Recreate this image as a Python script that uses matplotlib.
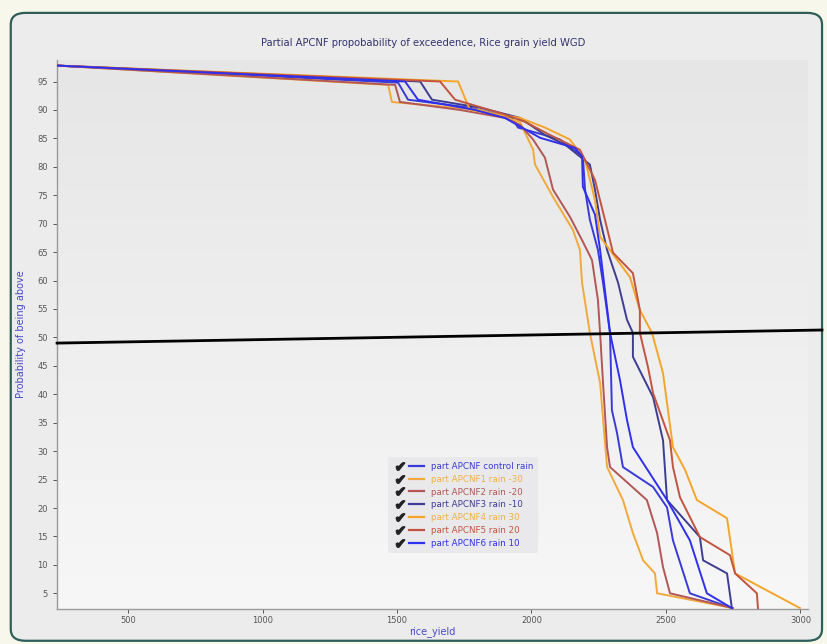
import numpy as np
import matplotlib
matplotlib.use("Agg")
import matplotlib.pyplot as plt
from matplotlib.lines import Line2D
from matplotlib.patches import FancyBboxPatch
from matplotlib.legend_handler import HandlerTuple

# ---------------- data ----------------
title = "Partial APCNF propobability of exceedence, Rice grain yield WGD"
xlabel = "rice_yield"
ylabel = "Probability of being above"

series_names = [
    "part APCNF control rain",
    "part APCNF1 rain -30",
    "part APCNF2 rain -20",
    "part APCNF3 rain -10",
    "part APCNF4 rain 30",
    "part APCNF5 rain 20",
    "part APCNF6 rain 10",
]
series_colors = ["#3a3ad6", "#f2a93b", "#b25656", "#3d3d92", "#f4a52a", "#c2543f", "#2f2fee"]
label_colors = ["#3a3ad6", "#f0b040", "#b25656", "#3d3d92", "#f0b040", "#c2543f", "#2f2fee"]

control_x = [236, 1504, 1541, 1771, 1927, 1950, 2106, 2191, 2199, 2217, 2247, 2266, 2292, 2299, 2318, 2340, 2452, 2504, 2526, 2589, 2745]
control_y = [97.8, 94.8, 91.8, 90.4, 88.6, 86.9, 84.8, 81.8, 76.0, 70.7, 65.4, 59.6, 50.8, 37.2, 33.2, 27.2, 23.7, 20.1, 14.3, 5.0, 2.4]

m30_x = [236, 1467, 1481, 1809, 1957, 2006, 2013, 2080, 2154, 2180, 2188, 2217, 2255, 2281, 2340, 2377, 2415, 2459, 2467, 2749]
m30_y = [97.8, 94.4, 91.4, 90.0, 87.9, 83.0, 80.4, 74.7, 68.9, 65.4, 59.6, 50.8, 42.0, 27.2, 21.4, 15.6, 10.8, 8.5, 5.0, 2.4]

m20_x = [236, 1493, 1511, 1734, 1901, 1957, 2006, 2050, 2080, 2143, 2188, 2225, 2247, 2255, 2266, 2281, 2292, 2429, 2467, 2489, 2515, 2749]
m20_y = [97.8, 94.4, 91.4, 90.0, 88.6, 87.4, 84.8, 81.6, 76.0, 71.2, 67.1, 63.6, 56.6, 50.8, 42.0, 30.7, 27.2, 21.4, 15.6, 9.6, 5.0, 2.4]

m10_x = [236, 1586, 1630, 1809, 1957, 2050, 2125, 2217, 2236, 2255, 2281, 2322, 2355, 2377, 2377, 2452, 2489, 2504, 2626, 2638, 2727, 2745]
m10_y = [97.8, 95.0, 91.8, 90.4, 88.6, 85.6, 83.9, 80.4, 76.0, 70.7, 65.4, 59.6, 53.1, 50.8, 46.6, 39.5, 31.9, 21.4, 14.9, 10.8, 8.5, 2.4]

p30_x = [236, 1727, 1771, 1957, 2050, 2143, 2199, 2236, 2255, 2366, 2403, 2448, 2489, 2526, 2571, 2615, 2727, 2757, 2998]
p30_y = [97.8, 95.0, 90.0, 88.6, 86.9, 84.8, 81.2, 74.2, 67.7, 60.6, 54.8, 50.8, 43.7, 30.7, 26.7, 21.4, 18.2, 8.5, 2.4]

p20_x = [236, 1660, 1716, 1901, 1976, 2069, 2180, 2236, 2273, 2303, 2377, 2403, 2403, 2433, 2452, 2515, 2526, 2552, 2626, 2738, 2757, 2838, 2842]
p20_y = [97.8, 95.0, 91.8, 89.2, 87.9, 85.6, 83.0, 77.7, 70.7, 64.9, 61.3, 54.8, 50.8, 44.8, 40.2, 31.9, 27.2, 21.9, 14.9, 11.7, 8.5, 5.0, 2.4]

p10_x = [236, 1530, 1578, 1790, 1901, 2032, 2162, 2188, 2191, 2236, 2255, 2273, 2292, 2329, 2355, 2377, 2504, 2589, 2652, 2745]
p10_y = [97.8, 95.0, 91.8, 90.0, 88.6, 85.1, 83.3, 81.8, 76.5, 71.6, 65.4, 58.3, 50.8, 42.5, 35.5, 30.7, 21.4, 14.3, 5.0, 2.4]

series_x = [control_x, m30_x, m20_x, m10_x, p30_x, p20_x, p10_x]
series_y = [control_y, m30_y, m20_y, m10_y, p30_y, p20_y, p10_y]

threshold_x = [236, 3080]
threshold_y = [49.0, 51.3]

x_ticks = [500, 1000, 1500, 2000, 2500, 3000]
y_ticks = list(range(5, 100, 5))

# ---------------- figure ----------------
fig = plt.figure(figsize=(8.27, 6.44), dpi=100)
fig.patch.set_facecolor("#f8f7ec")

panel = FancyBboxPatch((0.013, 0.005), 0.981, 0.975, transform=fig.transFigure,
                       boxstyle="round,pad=0,rounding_size=0.018",
                       facecolor="#ececec", edgecolor="#2d5e58", linewidth=1.6, zorder=0)
fig.add_artist(panel)

ax = fig.add_axes([0.069, 0.054, 0.908, 0.853])
ax.set_facecolor("none")
grad = np.linspace(0, 1, 256).reshape(-1, 1)
ax.imshow(grad, cmap=matplotlib.colors.LinearSegmentedColormap.from_list(
    "bg", ["#f7f7f7", "#e6e6e6"]), aspect="auto", extent=[0, 1, 0, 1],
    transform=ax.transAxes, origin="lower", zorder=0)

for xs, ys, c in zip(series_x, series_y, series_colors):
    ax.plot(xs, ys, color=c, lw=1.4, zorder=3)

ax.plot(threshold_x, threshold_y, color="black", lw=2.0, zorder=4, clip_on=False)

ax.set_xlim(236, 3028)
ax.set_ylim(2.2, 98.8)
ax.set_xticks(x_ticks)
ax.set_yticks(y_ticks)
ax.tick_params(labelsize=6, colors="#555555", length=3, width=0.7)
ax.tick_params(axis="x", pad=2)
for s in ["top", "right"]:
    ax.spines[s].set_visible(False)
for s in ["left", "bottom"]:
    ax.spines[s].set_color("#9a9a9a")
    ax.spines[s].set_linewidth(1.0)

fig.text(0.512, 0.933, title, ha="center", va="center", fontsize=7.2, color="#33336e")
ax.set_xlabel(xlabel, fontsize=7, color="#4848c8", labelpad=1)
ax.set_ylabel(ylabel, fontsize=7, color="#4848c8", labelpad=8)

handles = []
for c in series_colors:
    box = Line2D([], [], marker="$\u2714$", ls="", color="#222222", markersize=6)
    ln = Line2D([], [], color=c, lw=1.6)
    handles.append((box, ln))
leg = ax.legend(handles, series_names, handler_map={tuple: HandlerTuple(ndivide=None, pad=0.2)},
                loc="lower left", bbox_to_anchor=(0.435, 0.095), fontsize=6.3,
                handlelength=3.6, labelspacing=0.45, frameon=True, borderpad=0.5,
                labelcolor=label_colors)
leg.get_frame().set_facecolor("#e8e8ec")
leg.get_frame().set_edgecolor("none")
leg.get_frame().set_alpha(0.9)

fig.savefig("out.png", dpi=100, facecolor=fig.get_facecolor())
